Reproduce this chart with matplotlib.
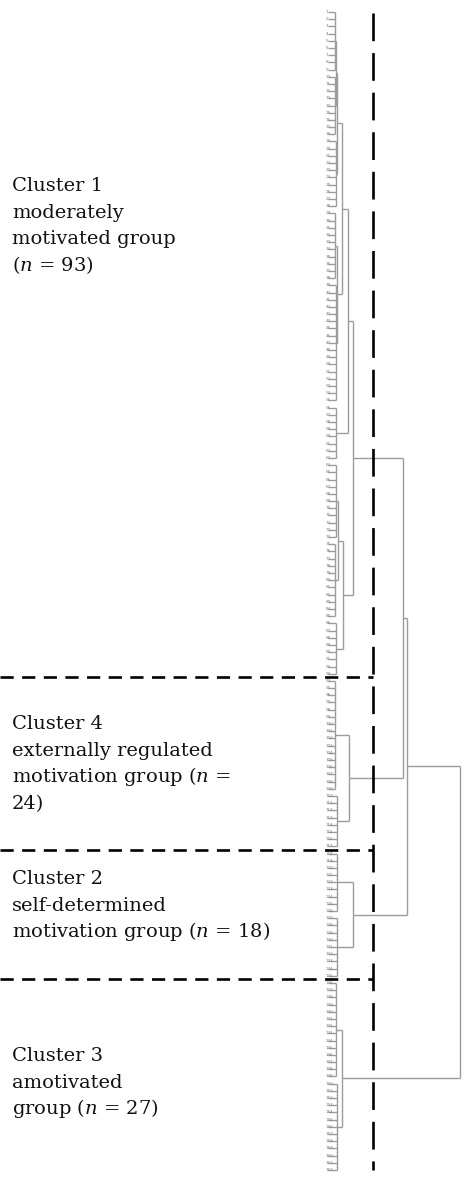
import matplotlib.pyplot as plt
from matplotlib.transforms import blended_transform_factory

plt.rcParams['font.family'] = ['DejaVu Serif']
plt.rcParams['mathtext.fontset'] = 'custom'
plt.rcParams['mathtext.rm'] = 'DejaVu Serif'
plt.rcParams['mathtext.it'] = 'DejaVu Serif:italic'

# leaf bundles in dendrogram order (top to bottom): size and joining distance (rescaled 0-25)
bundle_sizes = [9, 9, 10, 10, 17, 8, 11, 11, 8, 16, 8, 9, 9, 14, 13]
bundle_heights = [0.3, 0.4, 0.5, 0.4, 0.6, 0.6, 0.5, 0.4, 0.6, 0.3, 0.8, 0.8, 0.8, 0.5, 0.7]
# merges: (child a, child b, distance); ids >= len(bundle_sizes) are earlier merges
merges = [(0, 1, 0.6), (15, 2, 0.8), (3, 4, 0.7), (16, 17, 1.8), (18, 5, 2.9),
          (6, 7, 0.9), (20, 8, 2.0), (19, 21, 3.9), (9, 10, 3.1), (11, 12, 3.9),
          (13, 14, 1.8), (22, 23, 13.7), (26, 24, 14.5), (27, 25, 25.0)]
cut_distance = 7.8
cluster_sizes = [93, 24, 18, 27]
cluster_lines = [
    ["Cluster 1", "moderately", "motivated group", "($n$ = 93)"],
    ["Cluster 4", "externally regulated", "motivation group ($n$ =", "24)"],
    ["Cluster 2", "self-determined", "motivation group ($n$ = 18)"],
    ["Cluster 3", "amotivated", "group ($n$ = 27)"],
]
n_leaves = sum(bundle_sizes)
leaf_labels = [str(k + 1) for k in range(n_leaves)]

W, H = 463, 1178
fig = plt.figure(figsize=(W / 100, H / 100), dpi=100)
fig.patch.set_facecolor('white')

# dendrogram axes: distance 0 at x=333px, 25 at x=460px; first leaf at y=12px, last at 1170px
ax = fig.add_axes([333 / W, (H - 1170) / H, 127 / W, 1158 / H])
ax.set_xlim(0, 25)
ax.set_ylim(n_leaves - 1, 0)
ax.axis('off')

tree_kw = dict(color='#9c9c9c', lw=1.0, clip_on=False, solid_capstyle='butt')

node_y = []
node_h = []
start = 0
for size, h in zip(bundle_sizes, bundle_heights):
    ys = list(range(start, start + size))
    for y in ys:
        ax.plot([-0.9, h], [y, y], **tree_kw)
    ax.plot([h, h], [ys[0], ys[-1]], **tree_kw)
    node_y.append((ys[0] + ys[-1]) / 2)
    node_h.append(h)
    start += size

for a, b, h in merges:
    for c in (a, b):
        ax.plot([node_h[c], h], [node_y[c], node_y[c]], **tree_kw)
    ax.plot([h, h], [node_y[a], node_y[b]], **tree_kw)
    node_y.append((node_y[a] + node_y[b]) / 2)
    node_h.append(h)

# tiny case labels next to the leaves
lab_tr = blended_transform_factory(fig.transFigure, ax.transData)
for i, lab in enumerate(leaf_labels):
    fig.text(326 / W, i, lab, transform=lab_tr, fontsize=3.0, color='#7a7a7a',
             ha='left', va='center', family='DejaVu Sans')

# cut line and cluster separators
ax.plot([cut_distance, cut_distance], [0.1, n_leaves - 1], color='black', lw=1.9,
        linestyle=(0, (10.5, 4.5)), clip_on=False)
bounds = []
acc = 0
for s in cluster_sizes[:-1]:
    acc += s
    bounds.append(acc - 0.5)
x_fig_left = -333 / 127 * 25
for yb in bounds:
    ax.plot([x_fig_left, cut_distance], [yb, yb], color='black', lw=1.9,
            linestyle=(0, (5, 3.2)), clip_on=False)

# cluster descriptions
first_baselines = [191, 729, 884, 1061]
for lines, y0 in zip(cluster_lines, first_baselines):
    for k, line in enumerate(lines):
        fig.text(12 / W, 1 - (y0 + k * 26.7) / H, line, fontsize=14,
                 color='#111111', ha='left', va='baseline')

fig.savefig('out.png', dpi=100, facecolor='white')
